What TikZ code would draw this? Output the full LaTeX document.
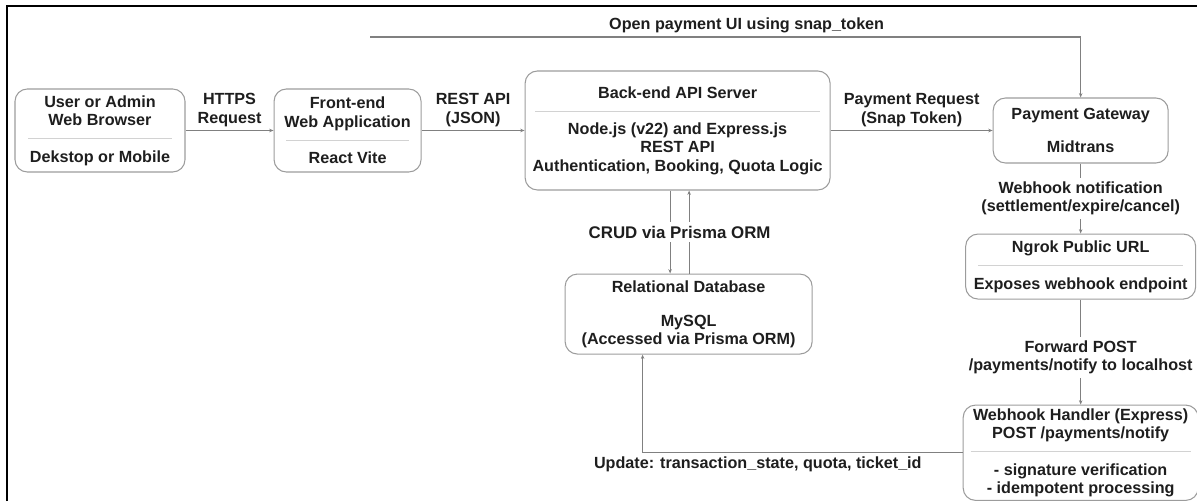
\documentclass[tikz,border=0pt]{standalone}
\usepackage{fontspec}
\setmainfont{Liberation Sans}
\usetikzlibrary{positioning,arrows.meta,calc}

\definecolor{boxgray}{HTML}{9C9C9C}
\definecolor{sepgray}{HTML}{D2D2D2}
\definecolor{linkgray}{HTML}{808080}
\definecolor{txtgray}{HTML}{1E1E1E}

\newcommand{\boxfont}{\fontsize{9.2}{10.4}\selectfont\bfseries}
\newcommand{\sepline}[1]{\textcolor{sepgray}{\rule[0.55ex]{#1}{0.6pt}}}

\tikzset{
  comp/.style={draw=boxgray, line width=0.6pt, rounded corners=7pt,
    align=center, font=\boxfont, text=txtgray, inner sep=2pt},
  link/.style={draw=linkgray, line width=0.6pt,
    -{Stealth[length=2.5pt,width=2pt]}},
  lbl/.style={font=\boxfont, text=txtgray, align=center, inner sep=2pt},
}

\begin{document}
\begin{tikzpicture}
  \useasboundingbox (0,0) rectangle (23.94,10.02);
  % frame of the screenshot
  \draw[line width=1.1pt] (0.14,0) -- (0.14,9.9) -- (23.94,9.9);

  % top row
  \node[comp, minimum width=3.4cm, minimum height=1.66cm] (browser) at (2.0,7.41)
    {User or Admin\\Web Browser\\\sepline{2.88cm}\\Dekstop or Mobile};
  \node[comp, minimum width=2.94cm, minimum height=1.66cm, right=1.76cm of browser] (front)
    {Front-end\\Web Application\\\sepline{2.45cm}\\React Vite};
  \node[comp, minimum width=6.1cm, minimum height=2.38cm, right=2.06cm of front] (backend)
    {Back-end API Server\\\sepline{5.7cm}\\Node.js (v22) and Express.js\\REST API\\Authentication, Booking, Quota Logic};
  \node[comp, minimum width=3.5cm, minimum height=1.3cm, right=3.24cm of backend] (gateway)
    {Payment Gateway\\[8pt]Midtrans};

  % right column
  \node[comp, minimum width=4.6cm, minimum height=1.3cm, below=1.4cm of gateway] (ngrok)
    {Ngrok Public URL\\\sepline{4.1cm}\\Exposes webhook endpoint};
  \node[comp, minimum width=4.7cm, minimum height=1.9cm, below=2.1cm of ngrok] (handler)
    {Webhook Handler (Express)\\POST /payments/notify\\\sepline{4.4cm}\\- signature verification\\- idempotent processing};

  % database
  \node[comp, minimum width=4.94cm, minimum height=1.6cm, below=1.66cm of backend, xshift=0.22cm] (db)
    {Relational Database\\[9pt]MySQL\\(Accessed via Prisma ORM)};

  \coordinate (snapstart) at (7.4,9.28);
  \coordinate (crudown) at ([xshift=-0.15cm]backend.south);
  \coordinate (crudup) at ([xshift=0.23cm]backend.south);

  % connectors
  \draw[link] (browser) -- node[lbl, above, midway] {HTTPS\\Request} (front);
  \draw[link] (front) -- node[lbl, above, midway] {REST API\\(JSON)} (backend);
  \draw[link] (backend) -- node[lbl, above, midway] {Payment Request\\(Snap Token)} (gateway);
  \draw[link] (snapstart) -| node[lbl, above, pos=0.265] {Open payment UI using snap\_token} (gateway);
  \draw[link] (gateway) -- node[lbl, fill=white, midway] {Webhook notification\\(settlement/expire/cancel)} (ngrok);
  \draw[link] (ngrok) -- node[lbl, fill=white, pos=0.55] {Forward POST\\/payments/notify to localhost} (handler);

  \draw[link] (crudown) -- (crudown |- db.north);
  \draw[link] (crudup |- db.north) -- (crudup);
  \node[lbl, fill=white, font=\fontsize{9.6}{11}\selectfont\bfseries] (crud)
    at ($(crudown)!0.5!(crudup |- db.north)$) {CRUD via Prisma ORM};

  \draw[link] (handler.west) -| node[lbl, below, pos=0.32] {Update: transaction\_state, quota, ticket\_id} ([xshift=-0.92cm]db.south);
\end{tikzpicture}
\end{document}
